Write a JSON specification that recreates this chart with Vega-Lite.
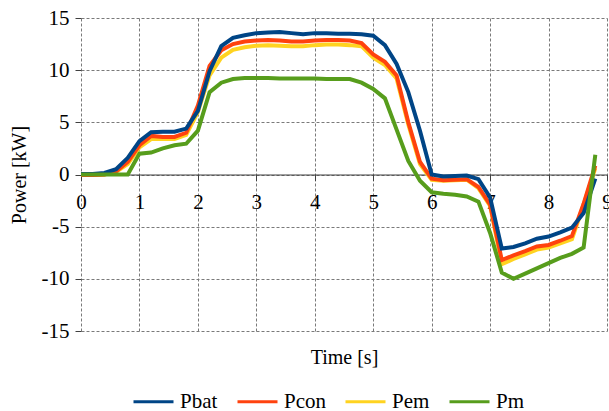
{
  "$schema": "https://vega.github.io/schema/vega-lite/v6.json",
  "width": 526,
  "height": 313,
  "autosize": "none",
  "padding": {"left": 81, "top": 18, "right": 2, "bottom": 80},
  "config": {
    "view": {"stroke": null},
    "font": "Liberation Serif",
    "axis": {"labelFont": "Liberation Serif", "titleFont": "Liberation Serif"},
    "legend": {"labelFont": "Liberation Serif"}
  },
  "datasets": {
    "series": [
      {"t":0,"s":"Pem","v":-0.05},{"t":0.2,"s":"Pem","v":-0.05},{"t":0.4,"s":"Pem","v":0.0},{"t":0.6,"s":"Pem","v":0.25},{"t":0.8,"s":"Pem","v":1.0},{"t":1.0,"s":"Pem","v":2.6},{"t":1.2,"s":"Pem","v":3.4},{"t":1.4,"s":"Pem","v":3.4},{"t":1.6,"s":"Pem","v":3.4},{"t":1.8,"s":"Pem","v":3.8},{"t":2.0,"s":"Pem","v":6.0},{"t":2.2,"s":"Pem","v":9.5},{"t":2.4,"s":"Pem","v":11.2},{"t":2.6,"s":"Pem","v":11.95},{"t":2.8,"s":"Pem","v":12.2},{"t":3.0,"s":"Pem","v":12.35},{"t":3.2,"s":"Pem","v":12.4},{"t":3.4,"s":"Pem","v":12.35},{"t":3.6,"s":"Pem","v":12.3},{"t":3.8,"s":"Pem","v":12.3},{"t":4.0,"s":"Pem","v":12.4},{"t":4.2,"s":"Pem","v":12.45},{"t":4.4,"s":"Pem","v":12.45},{"t":4.6,"s":"Pem","v":12.4},{"t":4.8,"s":"Pem","v":12.3},{"t":5.0,"s":"Pem","v":11.2},{"t":5.2,"s":"Pem","v":10.5},{"t":5.4,"s":"Pem","v":9.2},{"t":5.6,"s":"Pem","v":4.8},{"t":5.8,"s":"Pem","v":1.0},{"t":6.0,"s":"Pem","v":-0.5},{"t":6.2,"s":"Pem","v":-0.6},{"t":6.4,"s":"Pem","v":-0.55},{"t":6.6,"s":"Pem","v":-0.5},{"t":6.8,"s":"Pem","v":-1.3},{"t":7.0,"s":"Pem","v":-3.0},{"t":7.2,"s":"Pem","v":-8.6},{"t":7.4,"s":"Pem","v":-8.1},{"t":7.6,"s":"Pem","v":-7.65},{"t":7.8,"s":"Pem","v":-7.2},{"t":8.0,"s":"Pem","v":-7.0},{"t":8.2,"s":"Pem","v":-6.6},{"t":8.4,"s":"Pem","v":-6.2},{"t":8.6,"s":"Pem","v":-2.9},{"t":8.8,"s":"Pem","v":0.6},
      {"t":0,"s":"Pcon","v":-0.05},{"t":0.2,"s":"Pcon","v":-0.05},{"t":0.4,"s":"Pcon","v":0.0},{"t":0.6,"s":"Pcon","v":0.3},{"t":0.8,"s":"Pcon","v":1.2},{"t":1.0,"s":"Pcon","v":2.8},{"t":1.2,"s":"Pcon","v":3.7},{"t":1.4,"s":"Pcon","v":3.6},{"t":1.6,"s":"Pcon","v":3.6},{"t":1.8,"s":"Pcon","v":4.0},{"t":2.0,"s":"Pcon","v":6.6},{"t":2.2,"s":"Pcon","v":10.4},{"t":2.4,"s":"Pcon","v":11.9},{"t":2.6,"s":"Pcon","v":12.5},{"t":2.8,"s":"Pcon","v":12.75},{"t":3.0,"s":"Pcon","v":12.85},{"t":3.2,"s":"Pcon","v":12.9},{"t":3.4,"s":"Pcon","v":12.85},{"t":3.6,"s":"Pcon","v":12.75},{"t":3.8,"s":"Pcon","v":12.75},{"t":4.0,"s":"Pcon","v":12.85},{"t":4.2,"s":"Pcon","v":12.9},{"t":4.4,"s":"Pcon","v":12.9},{"t":4.6,"s":"Pcon","v":12.85},{"t":4.8,"s":"Pcon","v":12.6},{"t":5.0,"s":"Pcon","v":11.5},{"t":5.2,"s":"Pcon","v":10.8},{"t":5.4,"s":"Pcon","v":9.5},{"t":5.6,"s":"Pcon","v":5.0},{"t":5.8,"s":"Pcon","v":1.2},{"t":6.0,"s":"Pcon","v":-0.4},{"t":6.2,"s":"Pcon","v":-0.55},{"t":6.4,"s":"Pcon","v":-0.5},{"t":6.6,"s":"Pcon","v":-0.45},{"t":6.8,"s":"Pcon","v":-1.2},{"t":7.0,"s":"Pcon","v":-2.9},{"t":7.2,"s":"Pcon","v":-8.2},{"t":7.4,"s":"Pcon","v":-7.75},{"t":7.6,"s":"Pcon","v":-7.35},{"t":7.8,"s":"Pcon","v":-6.9},{"t":8.0,"s":"Pcon","v":-6.75},{"t":8.2,"s":"Pcon","v":-6.35},{"t":8.4,"s":"Pcon","v":-5.9},{"t":8.6,"s":"Pcon","v":-2.8},{"t":8.8,"s":"Pcon","v":0.85},
      {"t":0,"s":"Pbat","v":0.05},{"t":0.2,"s":"Pbat","v":0.05},{"t":0.4,"s":"Pbat","v":0.15},{"t":0.6,"s":"Pbat","v":0.5},{"t":0.8,"s":"Pbat","v":1.6},{"t":1.0,"s":"Pbat","v":3.2},{"t":1.2,"s":"Pbat","v":4.05},{"t":1.4,"s":"Pbat","v":4.1},{"t":1.6,"s":"Pbat","v":4.1},{"t":1.8,"s":"Pbat","v":4.4},{"t":2.0,"s":"Pbat","v":6.1},{"t":2.2,"s":"Pbat","v":9.9},{"t":2.4,"s":"Pbat","v":12.3},{"t":2.6,"s":"Pbat","v":13.1},{"t":2.8,"s":"Pbat","v":13.35},{"t":3.0,"s":"Pbat","v":13.55},{"t":3.2,"s":"Pbat","v":13.6},{"t":3.4,"s":"Pbat","v":13.65},{"t":3.6,"s":"Pbat","v":13.55},{"t":3.8,"s":"Pbat","v":13.45},{"t":4.0,"s":"Pbat","v":13.55},{"t":4.2,"s":"Pbat","v":13.55},{"t":4.4,"s":"Pbat","v":13.5},{"t":4.6,"s":"Pbat","v":13.5},{"t":4.8,"s":"Pbat","v":13.45},{"t":5.0,"s":"Pbat","v":13.3},{"t":5.2,"s":"Pbat","v":12.4},{"t":5.4,"s":"Pbat","v":10.6},{"t":5.6,"s":"Pbat","v":7.9},{"t":5.8,"s":"Pbat","v":4.2},{"t":6.0,"s":"Pbat","v":0.0},{"t":6.2,"s":"Pbat","v":-0.2},{"t":6.4,"s":"Pbat","v":-0.15},{"t":6.6,"s":"Pbat","v":-0.1},{"t":6.8,"s":"Pbat","v":-0.45},{"t":7.0,"s":"Pbat","v":-2.2},{"t":7.2,"s":"Pbat","v":-7.1},{"t":7.4,"s":"Pbat","v":-6.95},{"t":7.6,"s":"Pbat","v":-6.6},{"t":7.8,"s":"Pbat","v":-6.15},{"t":8.0,"s":"Pbat","v":-5.95},{"t":8.2,"s":"Pbat","v":-5.55},{"t":8.4,"s":"Pbat","v":-5.1},{"t":8.6,"s":"Pbat","v":-3.7},{"t":8.8,"s":"Pbat","v":-0.4},
      {"t":0,"s":"Pm","v":0},{"t":0.2,"s":"Pm","v":0},{"t":0.4,"s":"Pm","v":0},{"t":0.6,"s":"Pm","v":0},{"t":0.8,"s":"Pm","v":0},{"t":1.0,"s":"Pm","v":2.0},{"t":1.2,"s":"Pm","v":2.1},{"t":1.4,"s":"Pm","v":2.5},{"t":1.6,"s":"Pm","v":2.8},{"t":1.8,"s":"Pm","v":2.95},{"t":2.0,"s":"Pm","v":4.2},{"t":2.2,"s":"Pm","v":7.9},{"t":2.4,"s":"Pm","v":8.8},{"t":2.6,"s":"Pm","v":9.15},{"t":2.8,"s":"Pm","v":9.25},{"t":3.0,"s":"Pm","v":9.25},{"t":3.2,"s":"Pm","v":9.25},{"t":3.4,"s":"Pm","v":9.2},{"t":3.6,"s":"Pm","v":9.2},{"t":3.8,"s":"Pm","v":9.2},{"t":4.0,"s":"Pm","v":9.2},{"t":4.2,"s":"Pm","v":9.15},{"t":4.4,"s":"Pm","v":9.15},{"t":4.6,"s":"Pm","v":9.15},{"t":4.8,"s":"Pm","v":8.8},{"t":5.0,"s":"Pm","v":8.2},{"t":5.2,"s":"Pm","v":7.3},{"t":5.4,"s":"Pm","v":4.3},{"t":5.6,"s":"Pm","v":1.3},{"t":5.8,"s":"Pm","v":-0.6},{"t":6.0,"s":"Pm","v":-1.7},{"t":6.2,"s":"Pm","v":-1.85},{"t":6.4,"s":"Pm","v":-1.95},{"t":6.6,"s":"Pm","v":-2.1},{"t":6.8,"s":"Pm","v":-2.6},{"t":7.0,"s":"Pm","v":-5.6},{"t":7.2,"s":"Pm","v":-9.4},{"t":7.4,"s":"Pm","v":-10.0},{"t":7.6,"s":"Pm","v":-9.5},{"t":7.8,"s":"Pm","v":-9.0},{"t":8.0,"s":"Pm","v":-8.5},{"t":8.2,"s":"Pm","v":-8.0},{"t":8.4,"s":"Pm","v":-7.6},{"t":8.6,"s":"Pm","v":-7.0},{"t":8.8,"s":"Pm","v":1.9}
    ]
  },
  "data": {"name": "series"},
  "layer": [
    {
      "mark": {"type": "point", "opacity": 0},
      "encoding": {
        "x": {
          "field": "t", "type": "quantitative",
          "scale": {"domain": [0, 9], "nice": false, "zero": false},
          "axis": {
            "orient": "bottom", "values": [0,1,2,3,4,5,6,7,8,9],
            "grid": true, "gridDash": [3, 2], "gridColor": "#7a7a7a", "gridWidth": 1, "gridOpacity": 1,
            "domain": false, "ticks": false, "labels": false,
            "title": "Time [s]", "titleFont": "Liberation Serif", "titleFontSize": 20, "titleFontWeight": "normal",
            "titleColor": "#000000", "titleX": 263, "titleY": 26, "titleBaseline": "middle", "titleAlign": "center"
          }
        }
      }
    },
    {
      "mark": {"type": "line", "strokeWidth": 4, "strokeJoin": "miter"},
      "encoding": {
        "x": {
          "field": "t", "type": "quantitative",
          "scale": {"domain": [0, 9], "nice": false, "zero": false},
          "axis": {
            "orient": "bottom", "offset": -156.5, "values": [0,1,2,3,4,5,6,7,8,9],
            "grid": false, "domain": true, "domainColor": "#404040", "domainWidth": 1,
            "ticks": true, "tickColor": "#404040", "tickSize": 6,
            "labelFont": "Liberation Serif", "labelFontSize": 21, "labelColor": "#000000", "labelPadding": 11,
            "labelFlush": false, "labelOverlap": false, "title": null, "zindex": 0
          }
        },
        "y": {
          "field": "v", "type": "quantitative",
          "scale": {"domain": [-15, 15], "nice": false},
          "axis": {
            "values": [-15,-10,-5,0,5,10,15],
            "labelExpr": "replace(format(datum.value, 'd'), '\u2212', '-')",
            "grid": true, "gridDash": [3, 2], "gridColor": "#7a7a7a", "gridWidth": 1, "gridOpacity": 1,
            "domain": false, "ticks": true, "tickColor": "#404040", "tickSize": 6,
            "labelFont": "Liberation Serif", "labelFontSize": 21, "labelColor": "#000000", "labelPadding": 6,
            "title": "Power [kW]", "titleFont": "Liberation Serif", "titleFontSize": 20, "titleFontWeight": "normal",
            "titleColor": "#000000", "titleX": -62, "titleY": 156.5, "titleBaseline": "middle", "titleAlign": "center"
          }
        },
        "color": {
          "field": "s", "type": "nominal",
          "scale": {"domain": ["Pbat", "Pcon", "Pem", "Pm"], "range": ["#004586", "#ff420e", "#ffd320", "#579d1c"]},
          "legend": {
            "orient": "none", "legendX": 51, "legendY": 362, "direction": "horizontal", "title": null,
            "symbolType": "stroke", "symbolSize": 1600, "symbolStrokeWidth": 3,
            "labelFont": "Liberation Serif", "labelFontSize": 21, "labelColor": "#000000",
            "labelOffset": 5, "columnPadding": 13, "labelLimit": 300, "labelBaseline": "middle"
          }
        }
      }
    }
  ],
  "resolve": {"axis": {"x": "independent"}}
}
